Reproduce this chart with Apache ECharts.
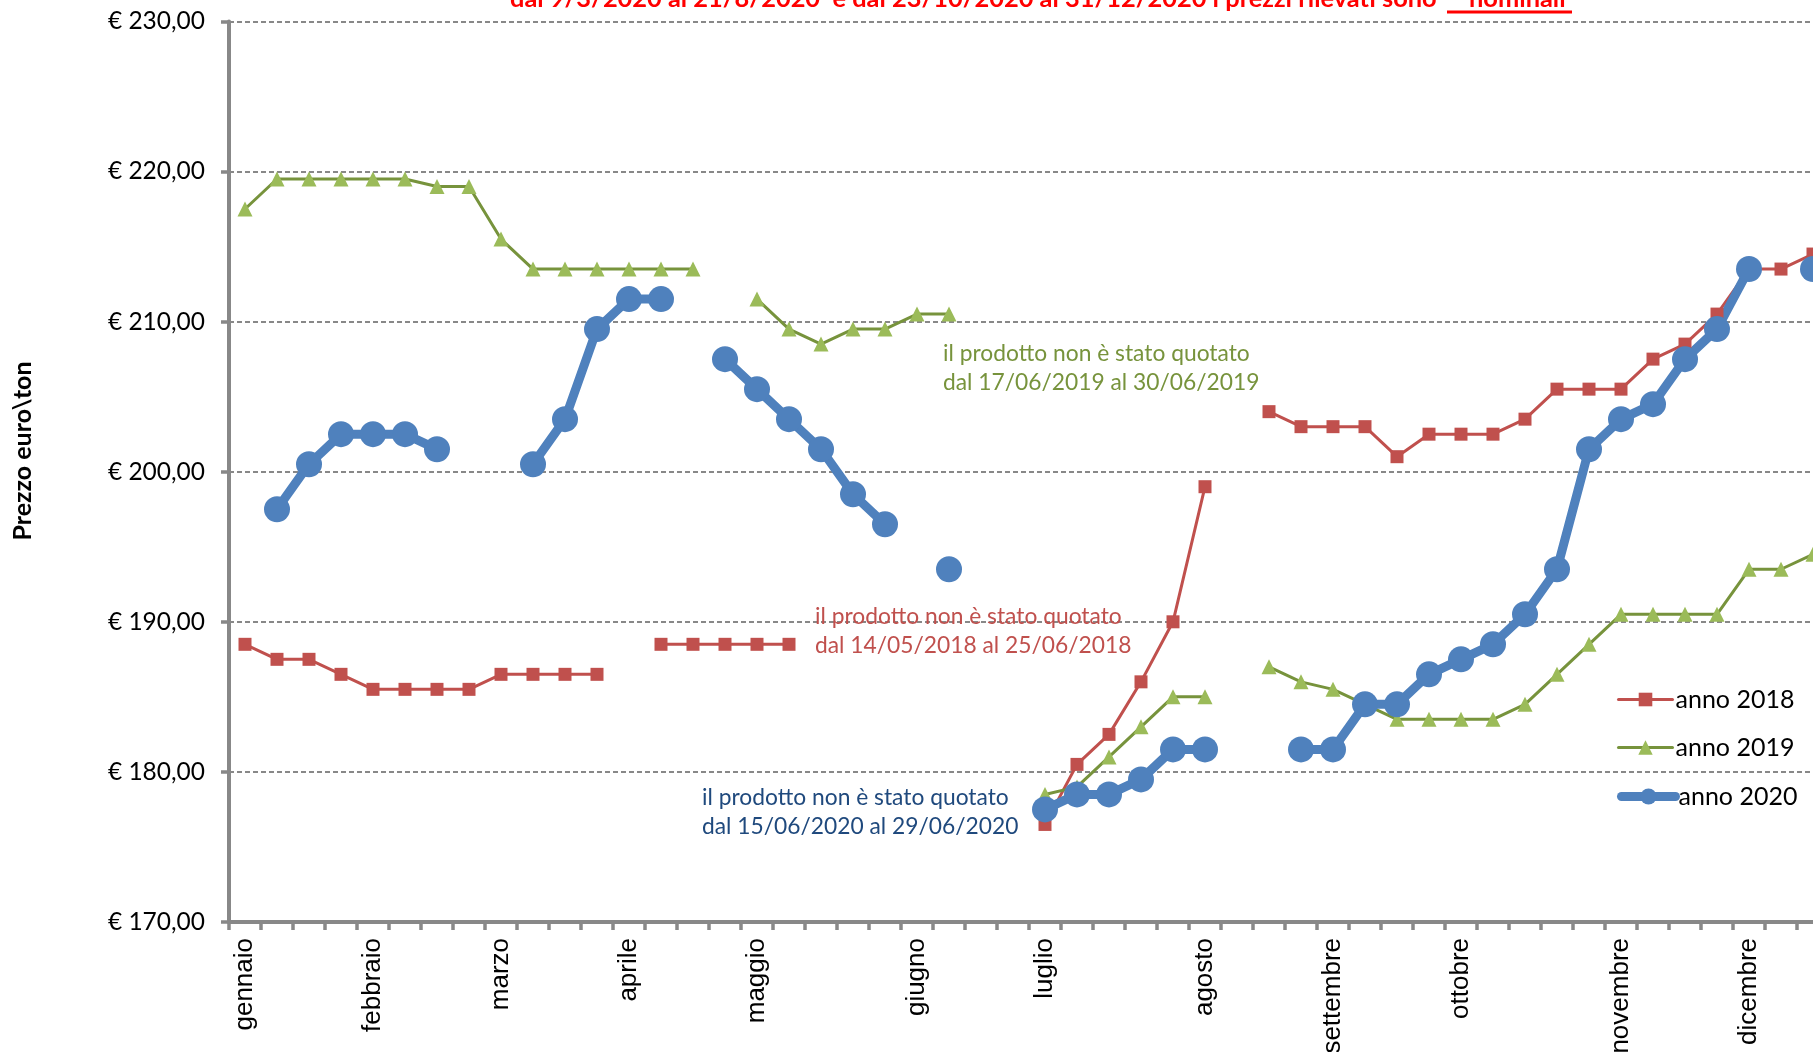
<!DOCTYPE html>
<html>
<head>
<meta charset="utf-8">
<script src="https://cdn.jsdelivr.net/npm/echarts@6/dist/echarts.min.js"></script>
<style>
html,body{margin:0;padding:0;background:#fff;}
#chart{width:1813px;height:1052px;}
</style>
</head>
<body>
<div id="chart"></div>
<script>
// ---- DATA ----
const weekCount = 52;
const monthNames = ['gennaio','febbraio','marzo','aprile','maggio','giugno','luglio','agosto','settembre','ottobre','novembre','dicembre'];
const monthStartWeek = [0,4,8,12,16,21,25,30,34,38,43,47];

const anno2018 = [188.5,187.5,187.5,186.5,185.5,185.5,185.5,185.5,186.5,186.5,186.5,186.5,null,188.5,188.5,188.5,188.5,188.5,null,null,null,null,null,null,null,176.5,180.5,182.5,186,190,199,null,204,203,203,203,201,202.5,202.5,202.5,203.5,205.5,205.5,205.5,207.5,208.5,210.5,213.5,213.5,214.5,214.5,214.5];
const anno2019 = [217.5,219.5,219.5,219.5,219.5,219.5,219,219,215.5,213.5,213.5,213.5,213.5,213.5,213.5,null,211.5,209.5,208.5,209.5,209.5,210.5,210.5,null,null,178.5,179,181,183,185,185,null,187,186,185.5,184.5,183.5,183.5,183.5,183.5,184.5,186.5,188.5,190.5,190.5,190.5,190.5,193.5,193.5,194.5,195,195];
const anno2020 = [null,197.5,200.5,202.5,202.5,202.5,201.5,null,null,200.5,203.5,209.5,211.5,211.5,null,207.5,205.5,203.5,201.5,198.5,196.5,null,193.5,null,null,177.5,178.5,178.5,179.5,181.5,181.5,null,null,181.5,181.5,184.5,184.5,186.5,187.5,188.5,190.5,193.5,201.5,203.5,204.5,207.5,209.5,213.5,null,213.5,213.5,213.5];

const seriesNames = ['anno 2018','anno 2019','anno 2020'];
const yMin = 170, yMax = 230, yStep = 10;

const titleText = 'dal 9/3/2020 al 21/8/2020  e dal 23/10/2020 al 31/12/2020 i prezzi rilevati sono';
const titleWord = '"nominali"';
const note2019 = ['il prodotto non è stato quotato','dal 17/06/2019 al 30/06/2019'];
const note2018 = ['il prodotto non è stato quotato','dal 14/05/2018 al 25/06/2018'];
const note2020 = ['il prodotto non è stato quotato','dal 15/06/2020 al 29/06/2020'];
const yAxisTitle = 'Prezzo euro\\ton';

// ---- BUILD ----
const categories = [];
for (let i = 0; i < weekCount; i++) {
  const m = monthStartWeek.indexOf(i);
  categories.push(m >= 0 ? monthNames[m] : '');
}

const calib = 'Lato, "Open Sans", sans-serif';
const chart = echarts.init(document.getElementById('chart'));

function note(lines, x, y, color) {
  return {
    type: 'text', left: x, top: y, z: 100,
    style: { text: lines.join('\n'), fill: color, font: '22.8px ' + calib, lineHeight: 29 }
  };
}
function legendRow(name, top, h, lw) {
  return {
    data: [name], orient: 'vertical', left: 1617, top: top,
    itemWidth: 54, itemHeight: h, padding: 0,
    lineStyle: { width: lw, cap: 'round' },
    textStyle: { color: '#000', fontSize: 25, fontFamily: calib, padding: [0, 0, 0, -2] }
  };
}

chart.setOption({
  animation: false,
  backgroundColor: '#ffffff',
  grid: { left: 229, top: 21.4, width: 32 * weekCount, bottom: 130, outerBoundsMode: 'none', containLabel: false },
  xAxis: {
    type: 'category',
    data: categories,
    boundaryGap: true,
    axisLine: { lineStyle: { color: '#888888', width: 4 } },
    axisTick: { show: true, interval: 0, length: 8, lineStyle: { color: '#888888', width: 3.5 } },
    axisLabel: { interval: 0, rotate: 90, margin: 16, color: '#000', fontSize: 26, fontFamily: '"Liberation Sans", Arial, sans-serif' },
    splitLine: { show: false }
  },
  yAxis: {
    type: 'value', min: yMin, max: yMax, interval: yStep,
    axisLine: { show: true, lineStyle: { color: '#888888', width: 4 } },
    axisTick: { show: true, length: 8, lineStyle: { color: '#888888', width: 3.5 } },
    axisLabel: { margin: 24, color: '#000', fontSize: 24.5, fontFamily: calib,
      formatter: v => '€ ' + v.toFixed(2).replace('.', ',') },
    splitLine: { show: true, lineStyle: { color: '#888888', width: 2, type: [5, 3] } }
  },
  legend: [
    legendRow(seriesNames[0], 687, 17, 3),
    legendRow(seriesNames[1], 735, 18, 3),
    legendRow(seriesNames[2], 784, 20, 9)
  ],
  series: [
    {
      name: seriesNames[0], type: 'line', data: anno2018,
      symbol: 'rect', symbolSize: 13, showAllSymbol: true, connectNulls: false,
      lineStyle: { color: '#C0504D', width: 3 },
      itemStyle: { color: '#C0504D' }
    },
    {
      name: seriesNames[1], type: 'line', data: anno2019,
      symbol: 'triangle', symbolSize: 15, showAllSymbol: true, connectNulls: false,
      lineStyle: { color: '#77933C', width: 3 },
      itemStyle: { color: '#9BBB59' }
    },
    {
      name: seriesNames[2], type: 'line', data: anno2020,
      symbol: 'circle', symbolSize: 26, showAllSymbol: true, connectNulls: false,
      lineStyle: { color: '#4F81BD', width: 9 },
      itemStyle: { color: '#4F81BD' }
    }
  ],
  graphic: [
    { type: 'text', left: 510, top: -14, z: 100,
      style: { text: titleText, fill: '#FF0000', font: 'bold 25.4px ' + calib } },
    { type: 'text', left: 1459, top: -14, z: 100,
      style: { text: titleWord, fill: '#FF0000', font: 'bold 25.4px ' + calib } },
    { type: 'line', z: 100, shape: { x1: 1447, y1: 12, x2: 1572, y2: 12 },
      style: { stroke: '#FF0000', lineWidth: 3 } },
    note(note2019, 943, 339, '#77933C'),
    note(note2018, 815, 602, '#C0504D'),
    note(note2020, 702, 783, '#1F497D'),
    { type: 'text', z: 100, x: 23, y: 451, rotation: Math.PI / 2,
      style: { text: yAxisTitle, fill: '#000', font: 'bold 25px ' + calib, textAlign: 'center', textVerticalAlign: 'middle' } }
  ]
});
</script>
</body>
</html>
